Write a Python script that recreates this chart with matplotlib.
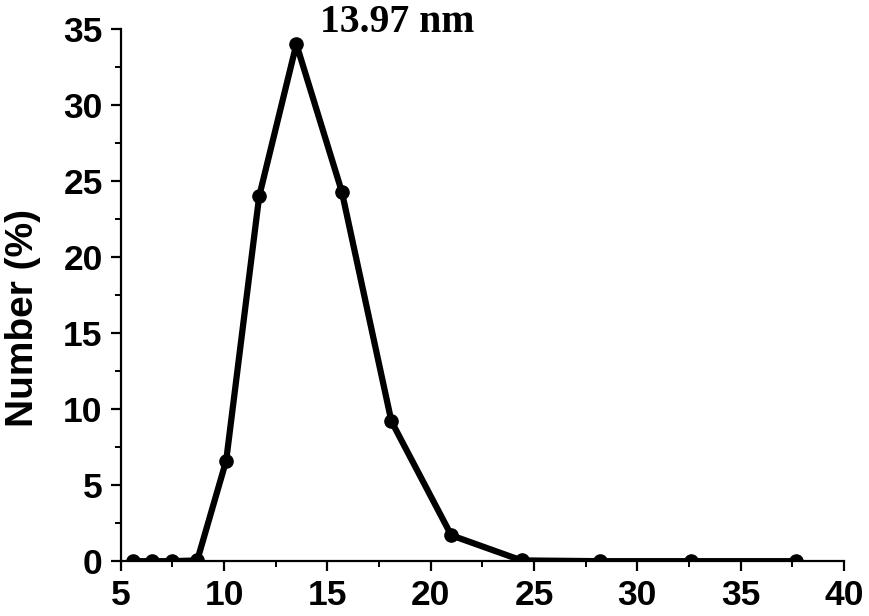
import matplotlib
matplotlib.use("Agg")
import matplotlib.pyplot as plt
from matplotlib.ticker import MultipleLocator

# particle size distribution
size_nm = [5.6, 6.5, 7.5, 8.7, 10.1, 11.7, 13.5, 15.7, 18.1, 21.0, 24.4, 28.2, 32.6, 37.7]
number_pct = [0, 0, 0, 0.05, 6.6, 24.0, 34.0, 24.3, 9.2, 1.7, 0.05, 0, 0, 0]
peak_label = "13.97 nm"

plt.rcParams['font.family'] = ['Liberation Sans', 'DejaVu Sans']
plt.rcParams['font.weight'] = 'bold'

fig = plt.figure(figsize=(8.69, 6.16), dpi=100)
ax = fig.add_axes([0.139, 0.089, 0.832, 0.864])

ax.plot(size_nm, number_pct, color='black', lw=4.5, marker='o', ms=9.5,
        solid_joinstyle='round')

ax.set_xlim(5, 40)
ax.set_ylim(0, 35)
ax.xaxis.set_major_locator(MultipleLocator(5))
ax.xaxis.set_minor_locator(MultipleLocator(2.5))
ax.yaxis.set_major_locator(MultipleLocator(5))
ax.yaxis.set_minor_locator(MultipleLocator(2.5))

for side in ['top', 'right']:
    ax.spines[side].set_visible(False)
for side in ['left', 'bottom']:
    ax.spines[side].set_linewidth(1.6)

ax.tick_params(which='major', direction='out', length=7, width=1.6,
               labelsize=25.5, pad=6)
ax.tick_params(which='minor', direction='out', length=4, width=1.4)
for lab in ax.get_xticklabels() + ax.get_yticklabels():
    lab.set_fontweight('bold')

ax.set_ylabel("Number (%)", fontsize=28, fontweight='bold')
ax.yaxis.set_label_coords(-0.111, 0.457)

ax.text(18.4, 34.8, peak_label, ha='center', va='baseline', fontsize=28.5,
        fontweight='bold', family=['Liberation Serif', 'DejaVu Serif'],
        clip_on=False)

fig.savefig("out.png", dpi=100)
plt.close(fig)
